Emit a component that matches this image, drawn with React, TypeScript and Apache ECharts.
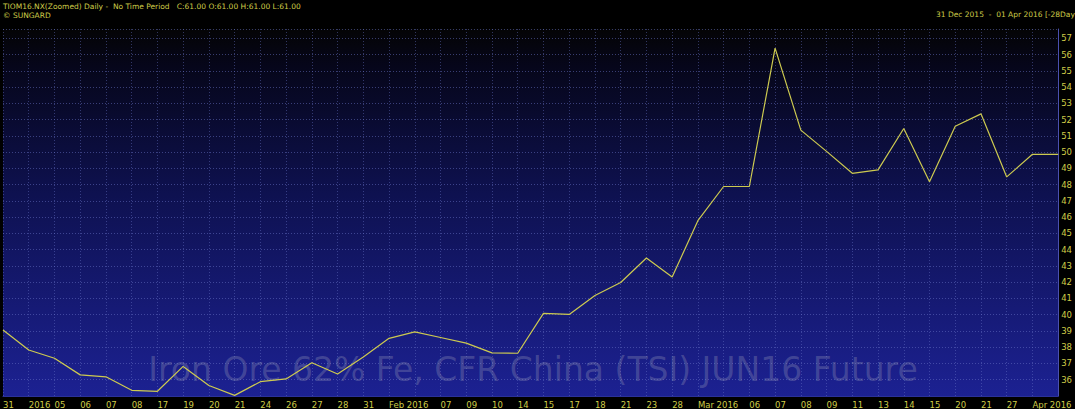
import React, { useEffect, useRef } from "react";
import * as echarts from "echarts";

const tickLabels: string[] = [
  "31", "2016", "05", "06", "07", "08", "17", "19", "20", "21", "24", "26", "27", "28",
  "31", "Feb 2016", "", "07", "09", "10", "14", "15", "17", "18", "21", "23", "28",
  "Mar 2016", "", "06", "07", "08", "09", "11", "13", "14", "15", "20", "21", "27",
  "Apr 2016", "",
];

const prices: number[] = [
  39.06, 37.83, 37.32, 36.3, 36.18, 35.35, 35.29, 36.82, 35.65, 35.04, 35.88, 36.05,
  37.05, 36.35, 37.4, 38.55, 38.95, 38.6, 38.25, 37.65, 37.63, 40.08, 40.02, 41.18,
  41.98, 43.49, 42.32, 45.79, 47.89, 47.89, 56.4, 51.36, 50.05, 48.7, 48.91, 51.46,
  48.18, 51.6, 52.36, 48.48, 49.87, 49.87,
];

const yMin = 35;
const yMax = 57.58;

const headerText = "TIOM16.NX(Zoomed) Daily -  No Time Period   C:61.00 O:61.00 H:61.00 L:61.00";
const copyrightText = "© SUNGARD";
const rangeText = "31 Dec 2015  -  01 Apr 2016 [-28Days]";
const watermarkText = "Iron Ore 62% Fe, CFR China (TSI) JUN16 Future";

const YELLOW = "#cfcc48";

export default function App() {
  const ref = useRef<HTMLDivElement>(null);

  useEffect(() => {
    if (!ref.current) return;
    const chart = echarts.init(ref.current, undefined, { renderer: "svg" });
    chart.setOption({
      animation: false,
      backgroundColor: "#000000",
      grid: {
        left: 3,
        right: 13,
        top: 29,
        bottom: 11,
        show: true,
        borderWidth: 0,
        backgroundColor: {
          type: "linear",
          x: 0,
          y: 0,
          x2: 0,
          y2: 1,
          colorStops: [
            { offset: 0, color: "#040405" },
            { offset: 0.1, color: "#06061a" },
            { offset: 0.45, color: "#0e1150" },
            { offset: 1, color: "#1c2192" },
          ],
        },
      },
      graphic: [
        {
          type: "text",
          left: 3,
          top: 2,
          style: { text: headerText, fill: YELLOW, font: "7.5px 'DejaVu Sans'" },
        },
        {
          type: "text",
          left: 3,
          top: 11,
          style: { text: copyrightText, fill: YELLOW, font: "7.5px 'DejaVu Sans'" },
        },
        {
          type: "text",
          left: 936,
          top: 10,
          style: { text: rangeText, fill: YELLOW, font: "7.5px 'DejaVu Sans'" },
        },
        {
          type: "text",
          x: 533,
          y: 369,
          z: 1,
          style: {
            text: watermarkText,
            fill: "rgba(150,152,185,0.33)",
            font: "33px 'DejaVu Sans'",
            textAlign: "center",
            textVerticalAlign: "middle",
          },
        },
      ],
      xAxis: {
        type: "category",
        data: tickLabels,
        boundaryGap: false,
        axisLine: { show: true, lineStyle: { color: "#2b3199", width: 1 } },
        axisTick: { show: false },
        axisLabel: {
          interval: 0,
          align: "left",
          margin: 4,
          color: YELLOW,
          fontSize: 8.5,
          fontFamily: "DejaVu Sans",
          showMinLabel: true,
          showMaxLabel: true,
        },
        splitLine: {
          show: true,
          interval: 0,
          lineStyle: { color: "rgba(105,115,200,0.45)", width: 1, type: [1, 2] },
        },
      },
      yAxis: {
        type: "value",
        position: "right",
        min: yMin,
        max: yMax,
        interval: 1,
        axisLine: { show: true, lineStyle: { color: "#4a50b0", width: 1 } },
        axisTick: { show: false },
        axisLabel: {
          margin: 3,
          color: YELLOW,
          fontSize: 8.5,
          fontFamily: "DejaVu Sans",
          showMinLabel: false,
          showMaxLabel: false,
          formatter: (v: number) => (Number.isInteger(v) ? String(v) : ""),
        },
        splitLine: {
          show: true,
          lineStyle: { color: "rgba(105,115,200,0.5)", width: 1, type: [1, 2] },
        },
      },
      series: [
        {
          type: "line",
          data: prices,
          showSymbol: false,
          z: 3,
          lineStyle: { color: "#cdca50", width: 1.2 },
        },
      ],
    });
    return () => chart.dispose();
  }, []);

  return (
    <div
      ref={ref}
      style={{ position: "fixed", left: 0, top: 0, width: 1075, height: 409, background: "#000" }}
    />
  );
}
